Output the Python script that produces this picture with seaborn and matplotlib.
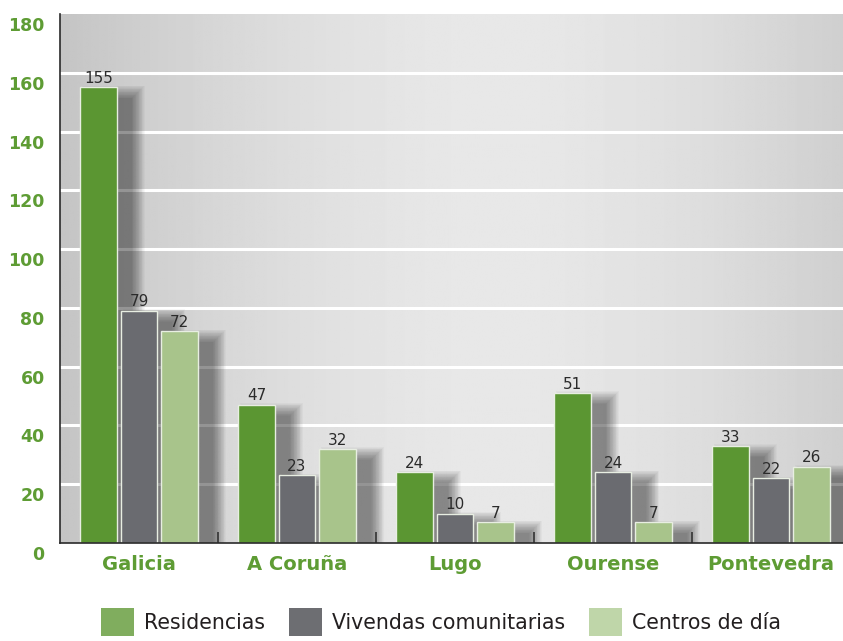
import numpy as np
import pandas as pd
import matplotlib
matplotlib.use("Agg")
import matplotlib.pyplot as plt
import matplotlib.transforms as mtrans
from matplotlib.patches import Rectangle, Patch
import seaborn as sns

categories = ["Galicia", "A Coruña", "Lugo", "Ourense", "Pontevedra"]
series = ["Residencias", "Vivendas comunitarias", "Centros de día"]
residencias = [155, 47, 24, 51, 33]
vivendas = [79, 23, 10, 24, 22]
centros = [72, 32, 7, 7, 26]
yticks = [0, 20, 40, 60, 80, 100, 120, 140, 160, 180]

bar_colors = ["#5b9632", "#6a6b70", "#a8c48b"]
legend_colors = ["#80ad5e", "#6d6e72", "#bfd6a9"]
green_txt = "#5e9c34"

df = pd.DataFrame({
    "region": categories * 3,
    "serie": [s for s in series for _ in categories],
    "valor": residencias + vivendas + centros,
})

sns.set_theme(style="white")

W, H = 843, 641
fig = plt.figure(figsize=(W / 100, H / 100), dpi=100)
ax_l, ax_r, ax_t, ax_b = 60, 850, 14, 543
ax = fig.add_axes([ax_l / W, 1 - ax_b / H, (ax_r - ax_l) / W, (ax_b - ax_t) / H])

# background gradient
t = np.linspace(0, 1, 400)
g = 0.79 + 0.12 * (1 - np.abs(2 * t - 1.1) ** 1.6)
grad = np.tile(g, (2, 1))
ax.imshow(grad, cmap="gray", vmin=0, vmax=1, aspect="auto",
          extent=[0, 1, 0, 1], transform=ax.transAxes, zorder=0)

for v in yticks[1:-1]:
    ax.axhline(v, color="white", lw=2.2, zorder=0.5)

sns.barplot(data=df, x="region", y="valor", hue="serie", palette=bar_colors,
            saturation=1, width=0.77, gap=0.09, edgecolor="#e8eee2",
            linewidth=1.0, legend=False, ax=ax, zorder=3)

ax.set_ylim(0, 180)
ax.set_xlim(-0.5, len(categories) - 0.5)

# soft blurred shadows behind bars
px_x = 1.0 / (ax_r - ax_l) * len(categories)
px_y = 180.0 / (ax_b - ax_t)
for p in list(ax.patches):
    x0, w, h = p.get_x(), p.get_width(), p.get_height()
    for k in range(18):
        grow = k * 0.75
        r = Rectangle((x0 + (15 - grow) * px_x, 0), w + 2 * grow * px_x,
                      max(h - (11 - grow) * px_y, 0), facecolor="#1a1a1a",
                      edgecolor="none", alpha=0.032, zorder=2)
        ax.add_patch(r)

for c in ax.containers:
    ax.bar_label(c, padding=1, fontsize=11, color="#2b2b2b")

ax.set_xlabel("")
ax.set_ylabel("")
ax.set_yticks(yticks)
ax.set_yticklabels([str(v) for v in yticks], fontsize=12.5, fontweight="bold",
                   color=green_txt)
ax.tick_params(axis="y", length=0, pad=11)
off = mtrans.ScaledTranslation(0, -10 / 100, fig.dpi_scale_trans)
for lab in ax.get_yticklabels():
    lab.set_transform(lab.get_transform() + off)

ax.set_xticks(range(len(categories)))
ax.set_xticklabels(categories, fontsize=14, fontweight="bold", color=green_txt)
ax.set_xticks(np.arange(len(categories) - 1) + 0.5, minor=True)
ax.tick_params(axis="x", which="both", direction="in", length=8, width=1.2,
               color="#333333", pad=9, bottom=True)

for s in ["top", "right"]:
    ax.spines[s].set_visible(False)
for s in ["left", "bottom"]:
    ax.spines[s].set_color("#2a2a2a")
    ax.spines[s].set_linewidth(1.2)
    ax.spines[s].set_zorder(5)
ax.set_axisbelow(False)

handles = [Patch(facecolor=c, edgecolor="none", label=s)
           for c, s in zip(legend_colors, series)]
fig.legend(handles=handles, loc="upper left", ncol=3, frameon=False,
           bbox_to_anchor=(101 / W, 1 - 608 / H), borderpad=0, borderaxespad=0,
           handlelength=1.6, handleheight=1.7, handletextpad=0.5,
           columnspacing=1.15, prop={"size": 14.8},
           labelcolor="#231f20")

fig.savefig("out.png", dpi=100)
